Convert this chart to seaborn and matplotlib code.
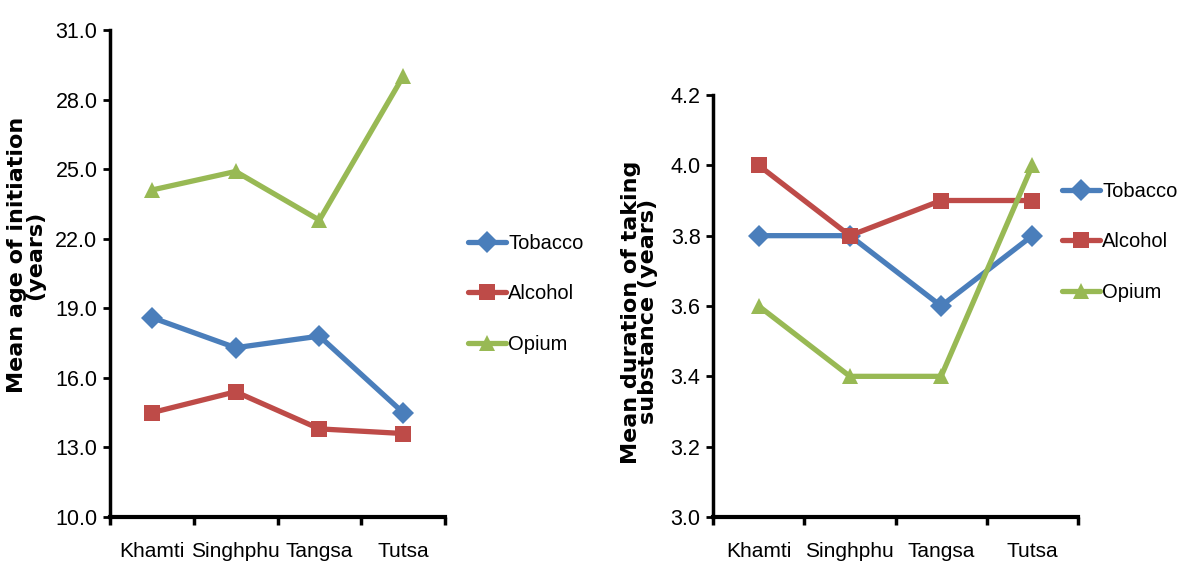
import matplotlib
matplotlib.use("Agg")
import matplotlib.pyplot as plt
import seaborn as sns
import pandas as pd
import numpy as np

sns.set_style("white")
plt.rcParams['font.family'] = ['Liberation Sans', 'DejaVu Sans']
plt.rcParams['text.color'] = 'black'
plt.rcParams['axes.labelcolor'] = 'black'
plt.rcParams['xtick.color'] = 'black'
plt.rcParams['ytick.color'] = 'black'

categories = ["Khamti", "Singhphu", "Tangsa", "Tutsa"]
series = ["Tobacco", "Alcohol", "Opium"]
age_tobacco = [18.6, 17.3, 17.8, 14.5]
age_alcohol = [14.5, 15.4, 13.8, 13.6]
age_opium = [24.1, 24.9, 22.8, 29.0]
dur_tobacco = [3.8, 3.8, 3.6, 3.8]
dur_alcohol = [4.0, 3.8, 3.9, 3.9]
dur_opium = [3.6, 3.4, 3.4, 4.0]
age_ticks = [10.0, 13.0, 16.0, 19.0, 22.0, 25.0, 28.0, 31.0]
dur_ticks = [3.0, 3.2, 3.4, 3.6, 3.8, 4.0, 4.2]

colors = {"Tobacco": "#4A7EBB", "Alcohol": "#BE4B48", "Opium": "#98B954"}
markers = {"Tobacco": "D", "Alcohol": "s", "Opium": "^"}

def make_df(vals):
    rows = []
    for s, v in zip(series, vals):
        for i, (c, y) in enumerate(zip(categories, v)):
            rows.append({"pos": i, "cat": c, "series": s, "value": y})
    return pd.DataFrame(rows)

df_age = make_df([age_tobacco, age_alcohol, age_opium])
df_dur = make_df([dur_tobacco, dur_alcohol, dur_opium])

fig = plt.figure(figsize=(11.79, 5.66), dpi=100)
W, H = 1179, 566
ax1 = fig.add_axes([110 / W, 1 - 517 / H, (445 - 110) / W, (517 - 30) / H])
ax2 = fig.add_axes([713 / W, 1 - 517 / H, (1078 - 713) / W, (517 - 95) / H])

def draw(ax, df, ticks, fmt, ylabel, leg_anchor):
    sns.lineplot(data=df, x="pos", y="value", hue="series", style="series",
                 hue_order=series, style_order=series,
                 palette=colors, markers=markers, dashes=False,
                 linewidth=3.8, markersize=11, markeredgewidth=0, ax=ax, legend=True)
    ax.set_xlim(-0.5, 3.5)
    ax.set_ylim(ticks[0], ticks[-1])
    ax.set_yticks(ticks)
    ax.set_yticklabels([fmt.format(t) for t in ticks], fontsize=15.5)
    ax.set_xticks(np.arange(-0.5, 4.0, 1.0))
    ax.set_xticklabels([])
    ax.set_xticks(range(len(categories)), minor=True)
    ax.set_xticklabels(categories, minor=True, fontsize=15)
    ax.tick_params(axis="x", which="minor", length=0, pad=18)
    ax.tick_params(axis="x", which="major", length=6, width=2.5, direction="out", color="black", bottom=True)
    ax.tick_params(axis="y", which="major", length=5, width=2, direction="out", color="black", left=True, pad=4)
    for side in ["top", "right"]:
        ax.spines[side].set_visible(False)
    for side in ["left", "bottom"]:
        ax.spines[side].set_color("black")
    ax.spines["left"].set_linewidth(2.5)
    ax.spines["bottom"].set_linewidth(3)
    ax.set_xlabel("")
    ax.set_ylabel(ylabel, fontsize=16, fontweight="bold", family="DejaVu Sans", linespacing=0.85)
    handles, labels = ax.get_legend_handles_labels()
    ax.get_legend().remove()
    fig.legend(handles, labels, loc="center left", bbox_to_anchor=leg_anchor,
               frameon=False, fontsize=14.5, handlelength=1.9, handletextpad=0.1,
               labelspacing=1.55, borderaxespad=0, borderpad=0)

draw(ax1, df_age, age_ticks, "{:.1f}", "Mean age of initiation\n(years)", (468 / W, 1 - 294 / H))
draw(ax2, df_dur, dur_ticks, "{:.1f}", "Mean duration of taking\nsubstance (years)", (1062 / W, 1 - 242 / H))
ax1.yaxis.set_label_coords(-0.195, 0.538)
ax2.yaxis.set_label_coords(-0.15, 0.486)

fig.savefig("out.png", dpi=100)
